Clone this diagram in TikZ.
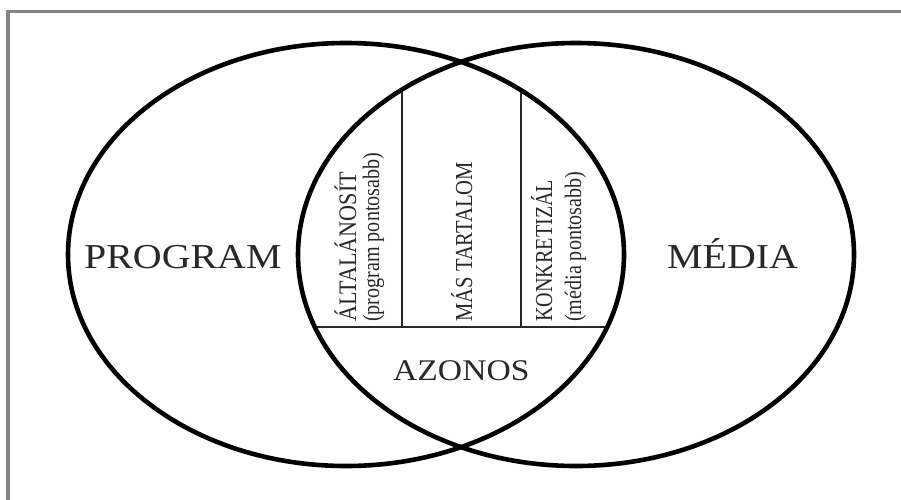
\documentclass[tikz,border=0pt]{standalone}
\usepackage{graphicx}
\usepackage{fontspec}
\setmainfont{Liberation Serif}
\usetikzlibrary{positioning}

\definecolor{framegray}{RGB}{132,132,132}
\definecolor{ink}{RGB}{40,40,40}

% text stretched sideways, as in the print
\newcommand{\widetext}[2]{\scalebox{#1}[1]{#2}}
\newcommand{\colbox}[3][1.18]{{\fontsize{20}{20}\selectfont\resizebox{#2}{#1\height}{#3}}}

\begin{document}
\begin{tikzpicture}[x=1pt, y=-1pt,
    venn/.style={line width=4.6pt, black},
    rule/.style={line width=1.3pt, ink},
    frame/.style={line width=3.4pt, framegray},
    bigtext/.style={inner sep=0pt, anchor=base west, text=ink, font=\fontsize{35}{35}\selectfont},
    midtext/.style={inner sep=0pt, anchor=base west, text=ink, font=\fontsize{30}{30}\selectfont},
    coltext/.style={inner sep=0pt, anchor=base west, rotate=90, text=ink}]
    \useasboundingbox (0,0) rectangle (901,499);

    % Frame
    \draw[frame] (8,501) -- (8,11.5) -- (903,11.5);

    % Inner lines
    \coordinate (cutL) at (290,327);
    \coordinate (cutR) at (632,327);
    \coordinate (colA) at (402,30);
    \coordinate (colB) at (521,30);
    \begin{scope}
        \clip (346,254.5) ellipse [x radius=278pt, y radius=211.5pt];
        \clip (576,254.5) ellipse [x radius=278pt, y radius=211.5pt];
        \draw[rule] (cutL) -- (cutR);
        \draw[rule] (colA) -- (colA |- cutL);
        \draw[rule] (colB) -- (colB |- cutL);
    \end{scope}

    % Ellipses
    \draw[venn] (346,254.5) ellipse [x radius=278pt, y radius=211.5pt];
    \draw[venn] (576,254.5) ellipse [x radius=278pt, y radius=211.5pt];

    % Labels
    \node[bigtext] (program) at (84,268) {\widetext{1.14}{PROGRAM}};
    \node[bigtext] (media) at (667,268) {\widetext{1.14}{MÉDIA}};
    \node[midtext] (azonos) at (393,380) {\widetext{1.12}{AZONOS}};

    \node[coltext] (altal) at (356,322) {\colbox[1.26]{150pt}{ÁLTALÁNOSÍT}};
    \node[coltext] (altalsub) at (379,322) {\colbox{169pt}{(program pontosabb)}};
    \node[coltext] (mas) at (472,322) {\colbox[1.22]{160pt}{MÁS TARTALOM}};
    \node[coltext] (konkr) at (552,322) {\colbox[1.22]{142pt}{KONKRETIZÁL}};
    \node[coltext] (konkrsub) at (581,322) {\colbox{150pt}{(média pontosabb)}};
\end{tikzpicture}
\end{document}
